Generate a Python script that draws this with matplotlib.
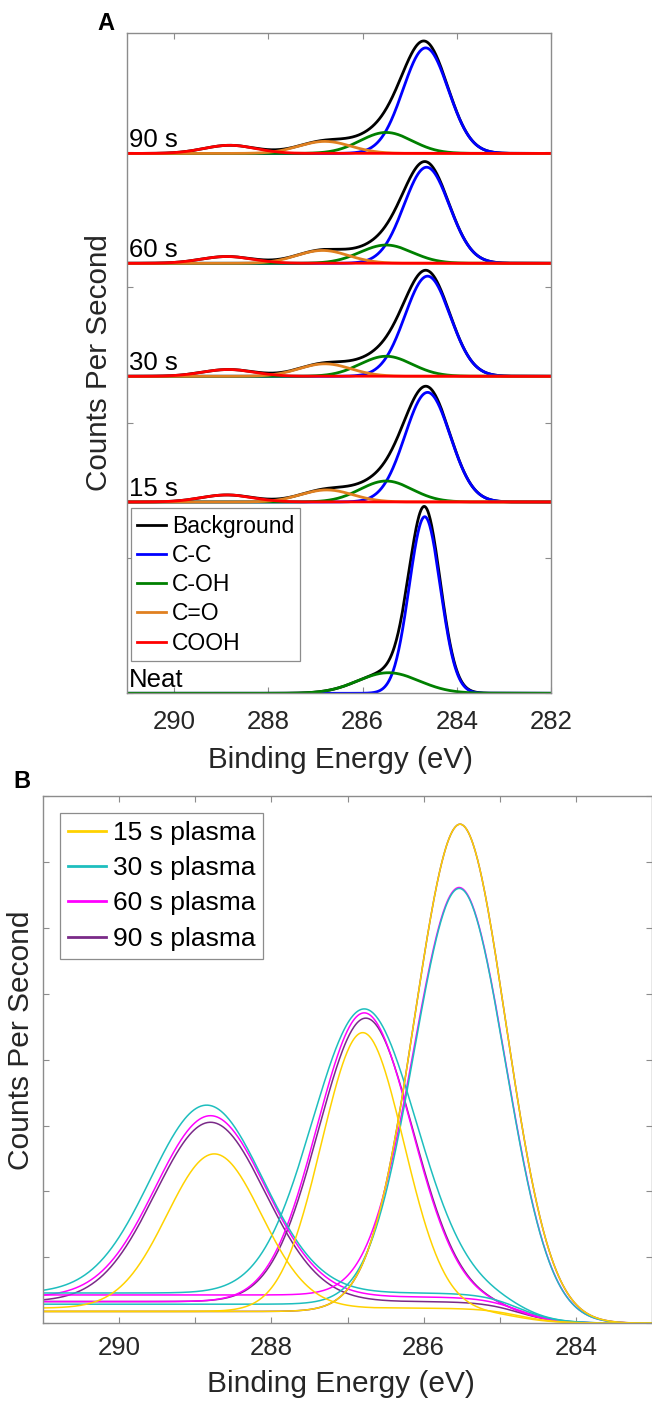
import numpy as np
import matplotlib
matplotlib.use('Agg')
import matplotlib.pyplot as plt

plt.rcParams['font.family'] = ['Liberation Sans', 'DejaVu Sans']

# ---- Panel A: fitted C 1s components per sample (heights in y-tick units, eV for centre/sigma)
samples_a = ['Neat', '15 s', '30 s', '60 s', '90 s']
offsets_a = [0.0, 1.414, 2.343, 3.178, 3.99]

cc_height = [1.305, 0.81, 0.74, 0.71, 0.78]
cc_center = [284.68, 284.62, 284.62, 284.64, 284.66]
cc_sigma = [0.33, 0.48, 0.48, 0.48, 0.48]

coh_height = [0.152, 0.155, 0.148, 0.135, 0.155]
coh_center = [285.45, 285.5, 285.5, 285.5, 285.5]
coh_sigma = [0.65, 0.55, 0.55, 0.55, 0.55]

co_height = [0.0, 0.089, 0.092, 0.095, 0.089]
co_center = [286.8, 286.76, 286.8, 286.85, 286.8]
co_sigma = [0.55, 0.55, 0.55, 0.55, 0.55]

cooh_height = [0.0, 0.052, 0.05, 0.05, 0.06]
cooh_center = [288.85, 288.88, 288.85, 288.88, 288.82]
cooh_sigma = [0.55, 0.55, 0.55, 0.55, 0.55]

legend_a = ['Background', 'C-C', 'C-OH', 'C=O', 'COOH']
colors_a = ['black', '#0000FF', '#008000', '#E08020', '#FF0000']

# ---- Panel B: oxidised components per plasma time (15, 30, 60, 90 s)
series_b = ['15 s plasma', '30 s plasma', '60 s plasma', '90 s plasma']
colors_b = ['#FFD200', '#1EBEBE', '#FF00FF', '#7A2A88']

b_coh_height = [7.40, 6.32, 6.20, 7.40]
b_coh_center = [285.52, 285.53, 285.53, 285.52]
b_coh_fwhm = [1.40, 1.40, 1.40, 1.40]
b_coh_bg = [0.18, 0.29, 0.43, 0.18]

b_co_height = [4.23, 4.31, 4.38, 4.30]
b_co_center = [286.80, 286.78, 286.78, 286.76]
b_co_fwhm = [1.27, 1.60, 1.46, 1.46]
b_co_bg = [0.18, 0.46, 0.33, 0.33]

b_cooh_height = [2.34, 2.85, 2.75, 2.72]
b_cooh_center = [288.75, 288.85, 288.80, 288.80]
b_cooh_fwhm = [1.46, 1.74, 1.70, 1.70]
b_cooh_bg = [0.23, 0.46, 0.40, 0.33]


def gauss(x, h, c, s):
    return h * np.exp(-(x - c) ** 2 / (2 * s ** 2))


def shirley_step(x, level, c=284.75, w=0.25):
    return level / (1 + np.exp(-(x - c) / w))


grey = '#8C8C8C'
txt = '#262626'

fig = plt.figure(figsize=(6.52, 14.01), dpi=100)

# ================= A =================
axA = fig.add_axes([127 / 652, 1 - 693.3 / 1401, 424 / 652, 660.3 / 1401])
x = np.linspace(282, 291, 900)
for i, name in enumerate(samples_a):
    off = offsets_a[i]
    comps = [gauss(x, cc_height[i], cc_center[i], cc_sigma[i]),
             gauss(x, coh_height[i], coh_center[i], coh_sigma[i]),
             gauss(x, co_height[i], co_center[i], co_sigma[i]),
             gauss(x, cooh_height[i], cooh_center[i], cooh_sigma[i])]
    heights = [cc_height[i], coh_height[i], co_height[i], cooh_height[i]]
    axA.plot(x, off + sum(comps), color=colors_a[0], lw=2.0)
    for k, comp in enumerate(comps):
        if heights[k] > 0:
            axA.plot(x, off + comp, color=colors_a[k + 1], lw=2.0)
    axA.text(290.96, off + 0.01, name, fontsize=18.5, va='bottom', ha='left', color='black')

axA.set_xlim(291, 282)
axA.set_ylim(0, 4.88)
axA.set_xticks([290, 288, 286, 284, 282])
axA.set_yticks([0, 1, 2, 3, 4])
axA.set_yticklabels([])
axA.tick_params(direction='in', length=4, width=0.8, color=grey, top=True, right=True,
                labelsize=18.5, labelcolor=txt, pad=12)

handles = [plt.Line2D([], [], color=c, lw=2.0) for c in colors_a]
legA = axA.legend(handles, legend_a, loc='upper left', bbox_to_anchor=(0.0094, 0.28),
                  borderaxespad=0, fontsize=16.5, frameon=True, fancybox=False,
                  edgecolor=grey, framealpha=1, handlelength=1.25, handletextpad=0.25,
                  labelspacing=0.27, borderpad=0.28)
legA.get_frame().set_linewidth(0.9)

# ================= B =================
axB = fig.add_axes([43 / 652, 1 - 1323.3 / 1401, 609 / 652, 527.3 / 1401])
xb = np.linspace(283, 291, 800)
order = [3, 2, 1, 0]
for j in order:
    comps = [(b_cooh_height[j], b_cooh_center[j], b_cooh_fwhm[j], b_cooh_bg[j]),
             (b_co_height[j], b_co_center[j], b_co_fwhm[j], b_co_bg[j]),
             (b_coh_height[j], b_coh_center[j], b_coh_fwhm[j], b_coh_bg[j])]
    for h, c, fw, bg in comps:
        y = gauss(xb, h, c, fw / 2.3548) + shirley_step(xb, bg)
        axB.plot(xb, y, color=colors_b[j], lw=1.1)

axB.set_xlim(291, 283)
axB.set_ylim(0, 8)
axB.set_xticks([290, 289, 288, 287, 286, 285, 284])
axB.set_xticklabels(['290', '', '288', '', '286', '', '284'])
axB.set_yticks(np.arange(0, 9))
axB.set_yticklabels([])
axB.tick_params(direction='in', length=4, width=0.8, color=grey, top=True, right=True,
                labelsize=18.5, labelcolor=txt, pad=9)

hB = [plt.Line2D([], [], color=c, lw=2.0) for c in colors_b]
legB = axB.legend(hB, series_b, loc='upper left', bbox_to_anchor=(0.028, 0.968),
                  borderaxespad=0, fontsize=19, frameon=True, fancybox=False,
                  edgecolor=grey, framealpha=1, handlelength=1.45, handletextpad=0.25,
                  labelspacing=0.43, borderpad=0.3)
legB.get_frame().set_linewidth(0.9)

for ax in (axA, axB):
    for sp in ax.spines.values():
        sp.set_color(grey)
        sp.set_linewidth(1.0)

# axis labels and panel letters
fig.text(99 / 652, 1 - 363 / 1401, 'Counts Per Second', rotation=90, ha='center', va='center',
         fontsize=21.3, color=txt)
fig.text(341 / 652, 1 - 768 / 1401, 'Binding Energy (eV)', ha='center', va='baseline',
         fontsize=21.3, color=txt)
fig.text(21 / 652, 1 - 1040 / 1401, 'Counts Per Second', rotation=90, ha='center', va='center',
         fontsize=21.5, color=txt)
fig.text(341 / 652, 1 - 1392 / 1401, 'Binding Energy (eV)', ha='center', va='baseline',
         fontsize=21.5, color=txt)
fig.text(97 / 652, 1 - 30 / 1401, 'A', ha='left', va='baseline', fontsize=17, weight='bold')
fig.text(13 / 652, 1 - 788 / 1401, 'B', ha='left', va='baseline', fontsize=17, weight='bold')

fig.savefig('out.png', dpi=100)
